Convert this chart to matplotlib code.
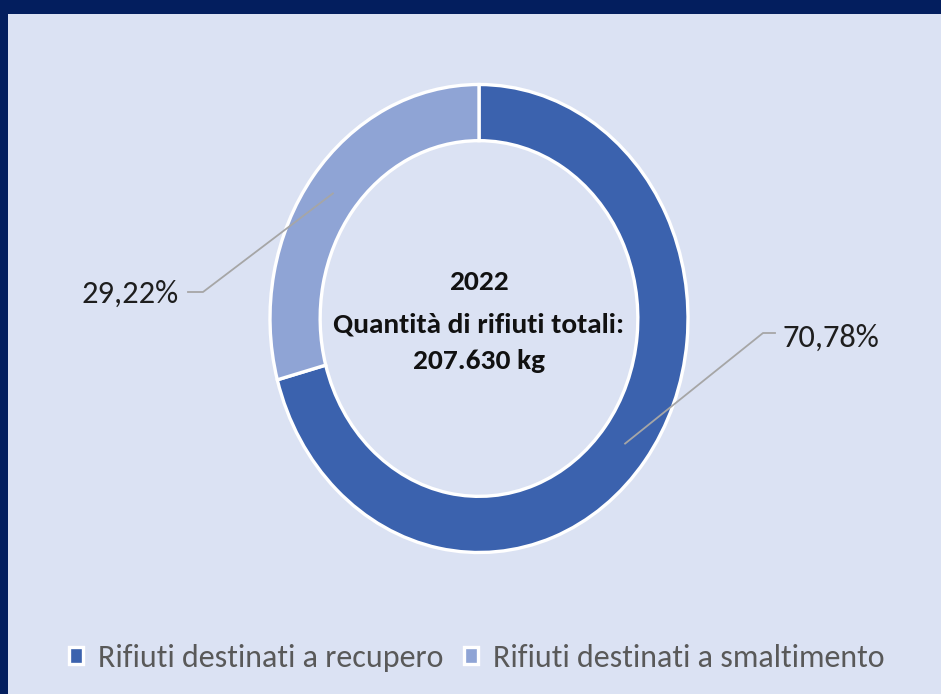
import matplotlib
matplotlib.use("Agg")
import numpy as np
import matplotlib.pyplot as plt
from matplotlib import font_manager
from matplotlib.patches import Rectangle

# dati
categorie = ["Rifiuti destinati a recupero", "Rifiuti destinati a smaltimento"]
percentuali = [70.78, 29.22]
etichette = ["70,78%", "29,22%"]
anno = "2022"
titolo_centro = "Quantità di rifiuti totali:"
totale = "207.630 kg"

colori = ["#3b62ae", "#8fa4d5"]
navy = "#031e5e"
pannello = "#dbe2f3"

# font simile a Calibri, se c'è
nomi = {f.name for f in font_manager.fontManager.ttflist}
fam = "DejaVu Sans"
for c in ["Carlito", "Liberation Sans Narrow", "Barlow Semi Condensed", "Asap Condensed"]:
    if c in nomi:
        fam = c
        break
plt.rcParams["font.family"] = [fam, "DejaVu Sans"]

W, H = 941, 694
fig = plt.figure(figsize=(W / 100, H / 100), dpi=100, facecolor=navy)
fig.patches.append(Rectangle((8 / W, 0), 1, (H - 14) / H, transform=fig.transFigure,
                             facecolor=pannello, edgecolor="none", zorder=-5))
rend = fig.canvas.get_renderer()


def misura(testo, larghezza, **kw):
    # dimensione del font che dà la larghezza voluta in pixel
    t = fig.text(0, 0, testo, fontsize=20, **kw)
    w = t.get_window_extent(rend).width
    t.remove()
    return 20 * larghezza / w


fs_perc = misura("29,22%", 97)
fs_centro = misura(titolo_centro, 292, fontweight="bold")
fs_leg = misura(categorie[0], 345)

# centro e raggi della ciambella in pixel
cx, cy, rx, ry = 479, 318.5, 209, 234
ax = fig.add_axes([0, 0, 1, 1])
ax.patch.set_visible(False)

wedges, _ = ax.pie(percentuali, colors=colori, startangle=90, counterclock=False,
                   radius=1, wedgeprops=dict(width=0.24, edgecolor="white", linewidth=2.4))
ax.set_aspect("auto")
ax.set_xlim((0 - cx) / rx, (W - cx) / rx)
ax.set_ylim((cy - H) / ry, cy / ry)
ax.axis("off")


def dy(py):
    return (cy - py) / ry


def dx(px):
    return (px - cx) / rx


# etichette con linee guida: (gomito, fine tratto orizzontale, bordo testo, base)
guide = [(763, 775, 783, 333, 347), (203, 188, 179, 292, 303)]
for w, lab, (gx, fx, tx, gy, b) in zip(wedges, etichette, guide):
    ang = np.deg2rad((w.theta1 + w.theta2) / 2)
    r = 0.88
    px, py = r * np.cos(ang), r * np.sin(ang)
    ax.plot([px, dx(gx), dx(fx)], [py, dy(gy), dy(gy)], color="#a6a6a6", lw=1.3)
    ax.text(dx(tx), dy(b), lab, ha="left" if tx > cx else "right", va="baseline",
            fontsize=fs_perc, color="#1e1e1e")

for testo, b in zip([anno, titolo_centro, totale], [290, 332, 369]):
    ax.text(0, dy(b), testo, ha="center", va="baseline", fontsize=fs_centro,
            fontweight="bold", color="#111111")

ax.legend(wedges, categorie, loc="center", bbox_to_anchor=(476.5 / W, 1 - 658 / H),
          bbox_transform=fig.transFigure, ncol=2, frameon=False, fontsize=fs_leg,
          labelcolor="#595959", handlelength=0.45, handleheight=0.45,
          handletextpad=0.45, columnspacing=0.65)

fig.savefig("out.png", dpi=100, facecolor=navy)
